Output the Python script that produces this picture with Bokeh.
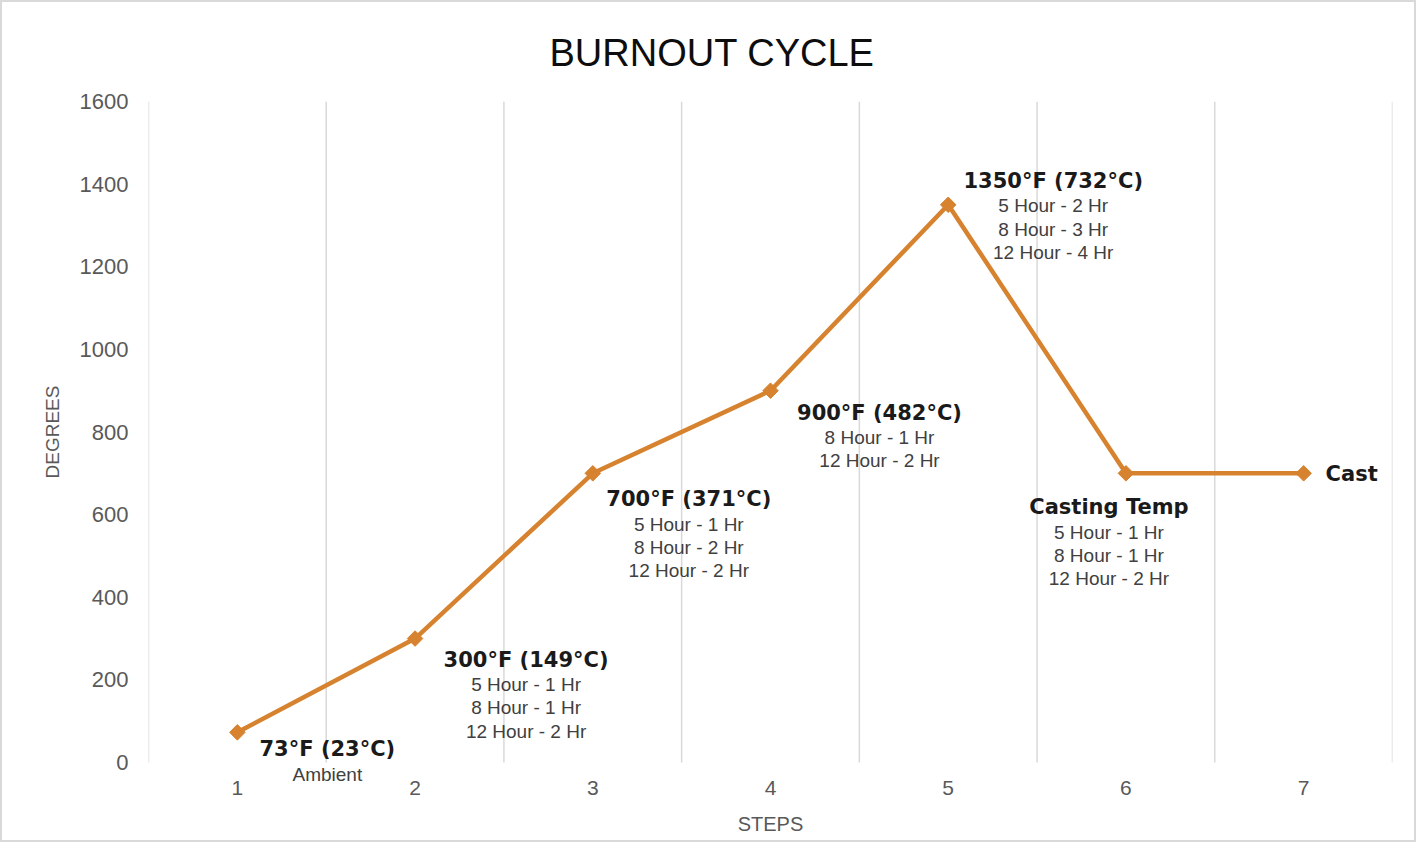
import math
from bokeh.plotting import figure
from bokeh.models import FixedTicker, Range1d, Label, Title
from bokeh.embed import file_html
from bokeh.resources import INLINE

# ---------------- data ----------------
steps = [1, 2, 3, 4, 5, 6, 7]
step_labels = ["1", "2", "3", "4", "5", "6", "7"]
degrees = [73, 300, 700, 900, 1350, 700, 700]
main_labels = ["73°F (23°C)", "300°F (149°C)", "700°F (371°C)", "900°F (482°C)",
               "1350°F (732°C)", "Casting Temp", "Cast"]
detail_labels = [
    ["Ambient"],
    ["5 Hour - 1 Hr", "8 Hour - 1 Hr", "12 Hour - 2 Hr"],
    ["5 Hour - 1 Hr", "8 Hour - 2 Hr", "12 Hour - 2 Hr"],
    ["8 Hour - 1 Hr", "12 Hour - 2 Hr"],
    ["5 Hour - 2 Hr", "8 Hour - 3 Hr", "12 Hour - 4 Hr"],
    ["5 Hour - 1 Hr", "8 Hour - 1 Hr", "12 Hour - 2 Hr"],
    [],
]
y_ticks = [0, 200, 400, 600, 800, 1000, 1200, 1400, 1600]

# ---------------- layout / style (screen px, downward positive) ----------------
label_dx = [90, 111, 96, 109, 105, -17, 48]
label_dy = [17, 21, 26, 22, -24, 34, 1]
first_gap = 25
line_gap = 23.3
tick_label_drop = 25
# frame is extended below 0 so the tick labels / "Ambient" are not clipped
y_pad = 96.8

ORANGE = "#D6822E"
FONT = "Liberation Sans"
BOLD_FONT = "DejaVu Sans"
GREY_TXT = "#595959"

p = figure(width=1416, height=842,
           x_range=Range1d(steps[0] - 0.5, steps[-1] + 0.5),
           y_range=Range1d(y_ticks[0] - y_pad, y_ticks[-1]),
           output_backend="svg", toolbar_location=None,
           min_border_left=146, min_border_right=26,
           min_border_top=99, min_border_bottom=42)
p.styles = {"border": "2px solid #d9d9d9"}

p.title.text = "BURNOUT CYCLE"
p.title.align = "left"
p.title.offset = 401
p.title.text_font = FONT
p.title.text_font_size = "38px"
p.title.text_font_style = "normal"
p.title.text_color = "#0d0d0d"
p.title.standoff = 55

p.outline_line_color = None
p.grid.visible = False

# vertical category separators from 0 to the top of the scale
bounds = [s - 0.5 for s in steps] + [steps[-1] + 0.5]
p.segment(x0=bounds, y0=[y_ticks[0]] * len(bounds), x1=bounds,
          y1=[y_ticks[-1]] * len(bounds), line_color="#d9d9d9", line_width=1.5)

for ax in (p.xaxis[0], p.yaxis[0]):
    ax.axis_line_color = None
    ax.major_tick_line_color = None
    ax.minor_tick_line_color = None
    ax.major_tick_out = 0
    ax.major_tick_in = 0
    ax.minor_tick_out = 0
    ax.major_label_text_font = FONT
    ax.major_label_text_color = GREY_TXT
    ax.axis_label_text_font = FONT
    ax.axis_label_text_color = GREY_TXT
    ax.axis_label_text_font_style = "normal"

p.xaxis.ticker = FixedTicker(ticks=[])
p.xaxis.major_label_standoff = 0
p.xaxis.axis_label = "STEPS"
p.xaxis.axis_label_text_font_size = "20px"
p.xaxis.axis_label_standoff = 10

p.yaxis.ticker = FixedTicker(ticks=y_ticks)
p.yaxis.major_label_text_font_size = "22px"
p.yaxis.major_label_standoff = 20

p.add_layout(Title(text="DEGREES", align="left", offset=324, standoff=28,
                   text_font=FONT, text_font_size="19px", text_font_style="normal",
                   text_color=GREY_TXT), "left")

# x category labels (drawn inside the extended frame)
for s, t in zip(steps, step_labels):
    p.add_layout(Label(x=s, y=y_ticks[0], text=t, y_offset=-tick_label_drop,
                       text_align="center", text_baseline="middle",
                       text_font=FONT, text_font_size="21px", text_color=GREY_TXT))

p.line(steps, degrees, line_width=4.5, line_color=ORANGE)
p.scatter(steps, degrees, marker="square", size=11, angle=math.pi / 4,
          fill_color=ORANGE, line_color=ORANGE)

# ---- annotations (individual labels, drawn from the data points) ----
for i, (s, d) in enumerate(zip(steps, degrees)):
    p.add_layout(Label(x=s, y=d, text=main_labels[i],
                       x_offset=label_dx[i], y_offset=-label_dy[i],
                       text_align="center", text_baseline="middle",
                       text_font=BOLD_FONT, text_font_size="21px",
                       text_font_style="bold", text_color="#1a1a1a"))
    for j, t in enumerate(detail_labels[i]):
        p.add_layout(Label(x=s, y=d, text=t,
                           x_offset=label_dx[i],
                           y_offset=-(label_dy[i] + first_gap + j * line_gap),
                           text_align="center", text_baseline="middle",
                           text_font=FONT, text_font_size="19px",
                           text_color="#404040"))

open("out.html", "w").write(file_html(p, INLINE))
